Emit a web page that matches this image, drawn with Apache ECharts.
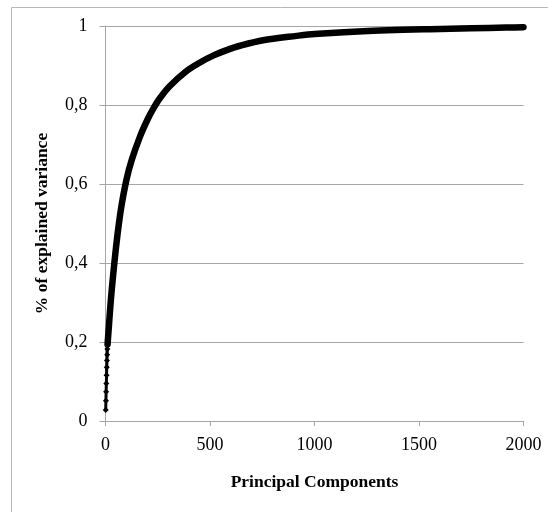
<!DOCTYPE html>
<html>
<head>
<meta charset="utf-8">
<script src="https://cdn.jsdelivr.net/npm/echarts@6/dist/echarts.min.js"></script>
<style>
  html, body { margin: 0; padding: 0; background: #fff; }
  #chart { width: 548px; height: 512px; }
</style>
</head>
<body>
<div id="chart"></div>
<script>
// cumulative explained variance
const components = [1, 2, 3, 4, 5, 6, 7, 8, 9, 10, 12, 16, 20, 25, 30, 41, 50, 60, 75, 100,
  125, 165, 200, 230, 260, 308, 388, 450, 515, 596, 643, 754, 914, 1000, 1232, 1551, 1750, 1917, 2000];
const explained = [0.028, 0.051, 0.074, 0.095, 0.116, 0.136, 0.153, 0.168, 0.182, 0.194, 0.21, 0.238, 0.268, 0.302, 0.333, 0.393, 0.438, 0.483, 0.54, 0.61,
  0.66, 0.72, 0.762, 0.792, 0.817, 0.848, 0.886, 0.907, 0.925, 0.942, 0.95, 0.964, 0.975, 0.98, 0.987, 0.992, 0.994, 0.996, 0.997];
const markedCount = 10; // first points show separate diamonds
const xTicks = [0, 500, 1000, 1500, 2000];
const yTicks = [0, 0.2, 0.4, 0.6, 0.8, 1];

const font = '"Liberation Serif", "Times New Roman", serif';
const gray = '#a6a6a6';

const pts = components.map((c, i) => [c, explained[i]]);

const chart = echarts.init(document.getElementById('chart'));
chart.setOption({
  animation: false,
  backgroundColor: '#fff',
  graphic: [{
    type: 'rect',
    shape: { x: 11.5, y: 7.5, width: 700, height: 700 },
    style: { fill: 'none', stroke: '#b8b8b8', lineWidth: 1 },
    z: -1,
  }],
  grid: { left: 105.5, right: 24.5, top: 26, bottom: 91 },
  xAxis: {
    type: 'value', min: 0, max: 2000, interval: 500,
    name: 'Principal Components', nameLocation: 'middle', nameGap: 52,
    nameTextStyle: { fontFamily: font, fontWeight: 'bold', fontSize: 17.5, color: '#000' },
    axisLine: { show: true, lineStyle: { color: gray, width: 1 } },
    axisTick: { show: true, inside: false, length: 5, lineStyle: { color: gray } },
    axisLabel: {
      margin: 15, fontFamily: font, fontSize: 18, color: '#000',
      formatter: (v) => (xTicks.includes(v) ? String(v) : ''),
    },
    splitLine: { show: false },
  },
  yAxis: {
    type: 'value', min: 0, max: 1, interval: 0.2,
    name: '% of explained variance', nameLocation: 'middle', nameGap: 54, nameRotate: 90,
    nameTextStyle: { fontFamily: font, fontWeight: 'bold', fontSize: 17.5, color: '#000' },
    axisLine: { show: true, lineStyle: { color: gray, width: 1 } },
    axisTick: { show: true, inside: false, length: 6, lineStyle: { color: gray } },
    axisLabel: {
      margin: 18, fontFamily: font, fontSize: 18, color: '#000',
      formatter: (v) => {
        const t = yTicks.find((y) => Math.abs(y - v) < 1e-9);
        return t === undefined ? '' : String(t).replace('.', ',');
      },
    },
    splitLine: { show: true, lineStyle: { color: gray, width: 1 } },
  },
  series: [
    {
      type: 'line',
      data: pts.slice(markedCount - 1),
      smooth: 0.3,
      showSymbol: false,
      lineStyle: { color: '#000', width: 6.5, cap: 'round', join: 'round' },
      z: 3,
    },
    {
      type: 'line',
      data: pts.slice(0, markedCount + 1),
      symbol: 'diamond',
      symbolSize: 6,
      showAllSymbol: true,
      itemStyle: { color: '#000' },
      lineStyle: { color: '#000', width: 3 },
      z: 4,
    },
  ],
});
</script>
</body>
</html>
